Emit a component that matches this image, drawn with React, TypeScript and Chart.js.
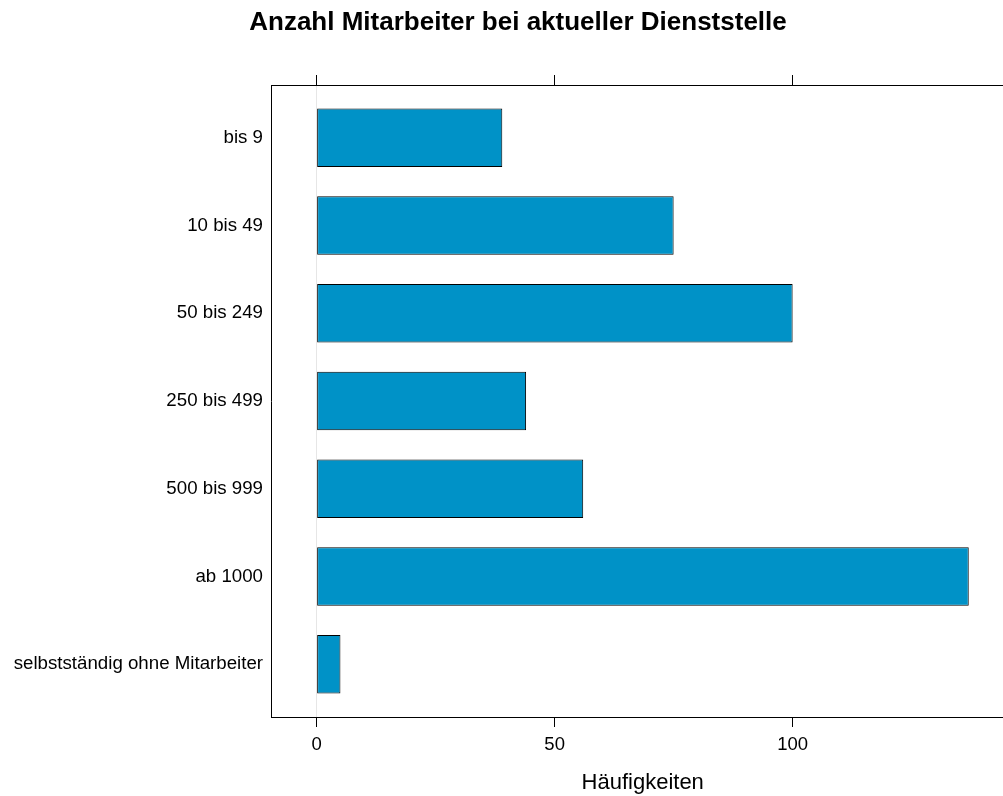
import React, { useEffect, useRef } from 'react';
import { Chart, registerables } from 'chart.js';

Chart.register(...registerables);

const categories = [
  'bis 9',
  '10 bis 49',
  '50 bis 249',
  '250 bis 499',
  '500 bis 999',
  'ab 1000',
  'selbstständig ohne Mitarbeiter',
];
const counts = [39, 75, 100, 44, 56, 137, 5];
const xTickValues = [0, 50, 100];
const chartTitle = 'Anzahl Mitarbeiter bei aktueller Dienststelle';
const xAxisLabel = 'Häufigkeiten';

const W = 1036;
const H = 796;
const X_MIN = -9.59;
const X_MAX = 146.59;
const FONT = "'Liberation Sans', Arial, Helvetica, sans-serif";

export default function App() {
  const ref = useRef<HTMLCanvasElement>(null);

  useEffect(() => {
    const canvas = ref.current;
    if (!canvas) return;
    const TITLE_SIZE = 26;
    const TITLE_PAD_TOP = 6.8;
    const titleH = TITLE_PAD_TOP + TITLE_SIZE * 1.2;
    const setXTicks = (s: any) => {
      s.ticks = xTickValues.map((v) => ({ value: v }));
    };

    const chart = new Chart(canvas, {
      type: 'bar',
      data: {
        datasets: [
          {
            data: categories.map((_, i) => ({ x: counts[i], y: i + 1 })) as any,
            backgroundColor: '#0092C7',
            borderColor: '#000000',
            borderWidth: 1,
            borderSkipped: false,
            barPercentage: 2 / 3,
            categoryPercentage: 1,
          },
        ],
      },
      options: {
        indexAxis: 'y',
        responsive: false,
        animation: false,
        layout: { padding: 0 },
        plugins: {
          legend: { display: false },
          tooltip: { enabled: false },
          title: {
            display: true,
            text: chartTitle,
            color: '#000',
            font: { family: FONT, size: TITLE_SIZE, weight: 'bold' },
            padding: { top: TITLE_PAD_TOP, bottom: 0 },
          },
        },
        scales: {
          y: {
            type: 'linear',
            position: 'left',
            min: 0.4,
            max: 7.6,
            reverse: true,
            offset: false,
            afterBuildTicks: (s: any) => {
              s.ticks = categories.map((_, i) => ({ value: i + 1 }));
            },
            afterFit: (s: any) => {
              s.width = 271;
            },
            ticks: {
              callback: (v: any) => categories[Number(v) - 1] ?? '',
              color: '#000',
              font: { family: FONT, size: 18.7 },
              padding: 8,
              autoSkip: false,
            },
            grid: { display: true, offset: false, drawOnChartArea: false, drawTicks: false },
            border: { display: true, color: '#000', width: 1 },
          },
          yPad: {
            type: 'linear',
            axis: 'y',
            position: 'right',
            min: 0,
            max: 1,
            afterFit: (s: any) => {
              s.width = 21.6;
            },
            ticks: { display: false },
            grid: { display: false },
            border: { display: false },
          },
          x: {
            type: 'linear',
            position: 'bottom',
            min: X_MIN,
            max: X_MAX,
            afterBuildTicks: setXTicks,
            afterFit: (s: any) => {
              s.height = 79;
            },
            ticks: {
              color: '#000',
              font: { family: FONT, size: 18.5 },
              padding: 7,
              maxRotation: 0,
              autoSkip: false,
            },
            grid: {
              drawOnChartArea: true,
              drawTicks: true,
              tickLength: 10,
              lineWidth: 1,
              color: (ctx: any) =>
                ctx.tick && ctx.tick.value === 0 ? '#e6e6e6' : 'rgba(0,0,0,0)',
              tickColor: '#000',
            },
            border: { display: true, color: '#000', width: 1 },
            title: {
              display: true,
              text: xAxisLabel,
              color: '#000',
              font: { family: FONT, size: 22 },
              padding: { top: 0, bottom: 0 },
            },
          },
          x2: {
            type: 'linear',
            axis: 'x',
            position: 'top',
            min: X_MIN,
            max: X_MAX,
            afterBuildTicks: setXTicks,
            afterFit: (s: any) => {
              s.height = 85 - titleH;
            },
            ticks: { display: false },
            grid: {
              drawOnChartArea: false,
              drawTicks: true,
              tickLength: 10,
              color: '#000',
              tickColor: '#000',
            },
            border: { display: true, color: '#000', width: 1 },
          },
        } as any,
      },
    });
    return () => chart.destroy();
  }, []);

  return (
    <div
      style={{
        position: 'fixed',
        left: 0,
        top: 0,
        width: 1003,
        height: 796,
        overflow: 'hidden',
        background: '#fff',
      }}
    >
      <canvas ref={ref} width={W} height={H} style={{ display: 'block' }} />
    </div>
  );
}
